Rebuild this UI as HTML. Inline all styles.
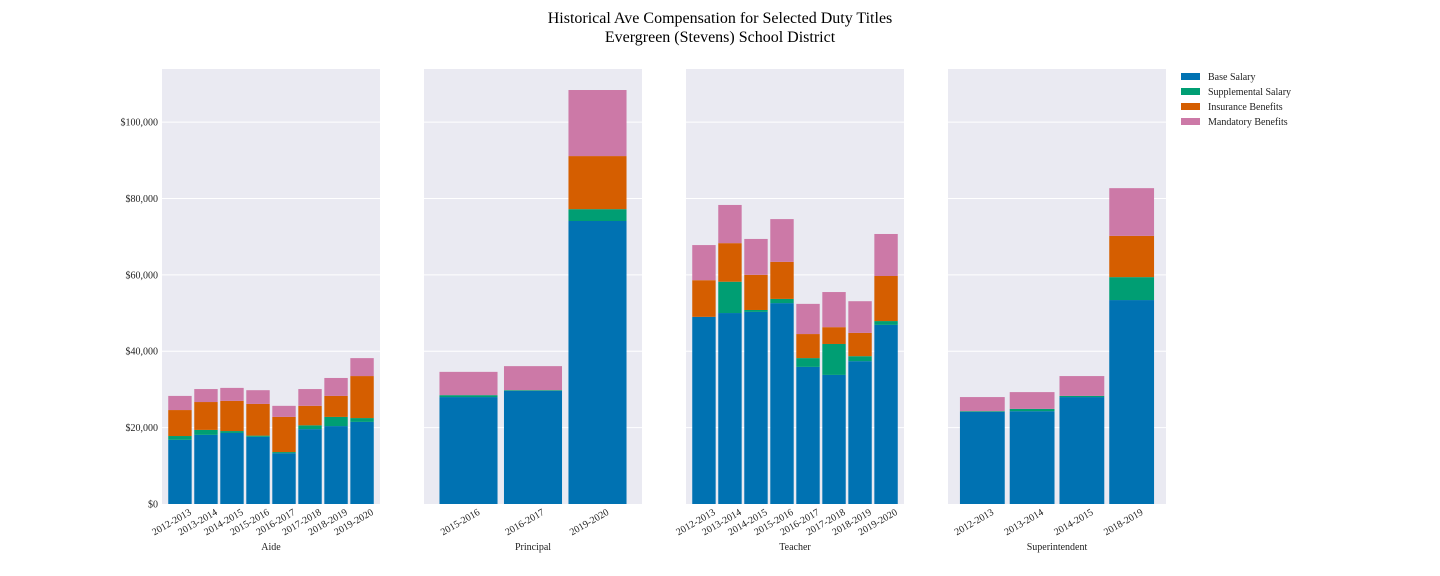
<!DOCTYPE html>
<html><head><meta charset="utf-8"><style>
body{margin:0;background:#fff;}
svg{display:block;font-family:"Liberation Serif",serif;}
</style></head><body>
<svg id="chart" width="1440" height="576">
<text x="720" y="23" text-anchor="middle" font-size="16">Historical Ave Compensation for Selected Duty Titles</text>
<text x="720" y="42" text-anchor="middle" font-size="16">Evergreen (Stevens) School District</text>
<g id="legend"></g>
</svg>
<script>
const seriesNames=["Base Salary","Supplemental Salary","Insurance Benefits","Mandatory Benefits"];
const colors=["#0072b2","#009e73","#d55e00","#cc79a7"];
const yTicks=[0,20000,40000,60000,80000,100000];
const yTickLabels=["$0","$20,000","$40,000","$60,000","$80,000","$100,000"];

const aideCats=["2012-2013","2013-2014","2014-2015","2015-2016","2016-2017","2017-2018","2018-2019","2019-2020"];
const aideBase=[16800,18100,18600,17600,13300,19600,20400,21500];
const aideSupp=[1000,1300,500,300,300,1000,2400,1000];
const aideIns=[6800,7300,7900,8300,9200,5100,5500,11000];
const aideMand=[3700,3400,3400,3600,2900,4400,4700,4700];

const prinCats=["2015-2016","2016-2017","2019-2020"];
const prinBase=[28000,29600,74100];
const prinSupp=[500,200,3100];
const prinIns=[0,0,13900];
const prinMand=[6100,6300,17300];

const teachCats=["2012-2013","2013-2014","2014-2015","2015-2016","2016-2017","2017-2018","2018-2019","2019-2020"];
const teachBase=[49000,50000,50300,52600,35900,33800,37400,46900];
const teachSupp=[0,8200,500,1100,2300,8100,1300,1000];
const teachIns=[9600,10100,9200,9700,6300,4400,6100,11800];
const teachMand=[9200,10000,9400,11200,7900,9200,8300,11000];

const supCats=["2012-2013","2013-2014","2014-2015","2018-2019"];
const supBase=[24100,24300,28000,53400];
const supSupp=[200,600,300,6000];
const supIns=[0,0,0,10800];
const supMand=[3700,4400,5200,12500];

const panels=[
 {name:"Aide",cats:aideCats,series:[aideBase,aideSupp,aideIns,aideMand],x0:162},
 {name:"Principal",cats:prinCats,series:[prinBase,prinSupp,prinIns,prinMand],x0:424},
 {name:"Teacher",cats:teachCats,series:[teachBase,teachSupp,teachIns,teachMand],x0:686},
 {name:"Superintendent",cats:supCats,series:[supBase,supSupp,supIns,supMand],x0:948}
];
const NS="http://www.w3.org/2000/svg";
const svg=document.getElementById("chart");
const PW=218, TOP=69, BOT=504, YMAX=113900;
function y(v){return BOT-(v/YMAX)*(BOT-TOP);}
function mk(tag,attrs,parent){const e=document.createElementNS(NS,tag);for(const k in attrs)e.setAttribute(k,attrs[k]);(parent||svg).appendChild(e);return e;}

panels.forEach((p,pi)=>{
  const g=mk("g",{});
  
  
  const bg=mk("rect",{x:p.x0,y:TOP,width:PW,height:BOT-TOP,fill:"#eaeaf2"},g);
  
  
  yTicks.forEach((t,i)=>{
    if(t>0){const gl=mk("line",{x1:p.x0,x2:p.x0+PW,y1:y(t),y2:y(t),stroke:"#fff","stroke-width":1},g);
      
      }
    if(pi===0){const tl=mk("text",{x:p.x0-4,y:y(t)+3.5,"text-anchor":"end","font-size":10,fill:"#222"},g);
      tl.textContent=yTickLabels[i];
      
      }
  });
  const n=p.cats.length, lo=-0.69, hi=n-0.31, bw=0.9;
  const xs=u=>p.x0+(u-lo)/(hi-lo)*PW;
  p.cats.forEach((c,i)=>{
    let cum=0;
    p.series.forEach((s,si)=>{
      const v=s[i]; if(v<=0) return;
      const r=mk("rect",{x:xs(i-bw/2),width:xs(i+bw/2)-xs(i-bw/2),y:y(cum+v),height:y(cum)-y(cum+v),fill:colors[si]},g);
      
      
      cum+=v;
    });
    const cx=xs(i);
    const tl=mk("text",{x:cx+12,y:BOT+10,"text-anchor":"end","font-size":10,fill:"#222",transform:`rotate(-30 ${cx+12} ${BOT+10})`},g);
    tl.textContent=c;
    
    
  });
  const al=mk("text",{x:p.x0+PW/2,y:550,"text-anchor":"middle","font-size":10,fill:"#222"},g);
  al.textContent=p.name;
  
  
});
const lg=document.getElementById("legend");
seriesNames.forEach((s,i)=>{
  const r=mk("rect",{x:1181,y:73+i*15,width:19,height:7,fill:colors[i]},lg);
  
  
  const t=mk("text",{x:1208,y:80+i*15,"font-size":10,fill:"#222"},lg);
  t.textContent=s;
  
  
});
</script>
</body></html>
